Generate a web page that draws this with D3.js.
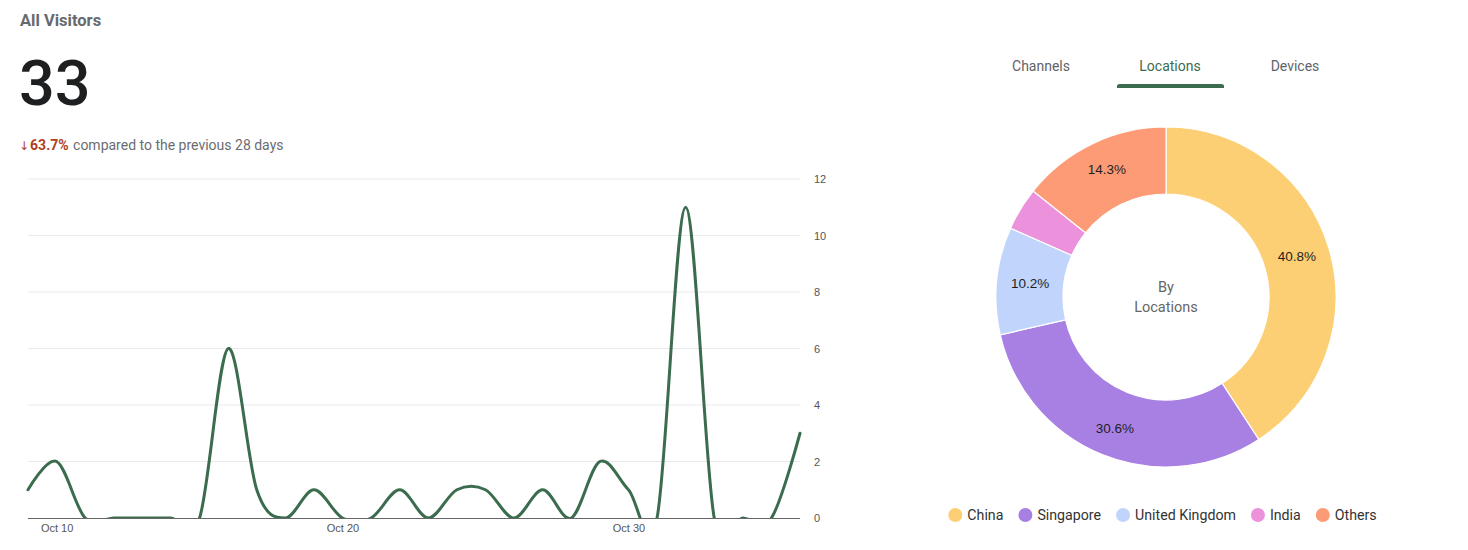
<!DOCTYPE html>
<html><head><meta charset="utf-8">
<script src="https://cdn.jsdelivr.net/npm/d3@7"></script>
<style>
body{margin:0;background:#fff;font-family:Roboto,"Noto Sans",sans-serif;}
svg{display:block;}
</style></head>
<body>
<svg id="chart" width="1468" height="550"></svg>
<script>
// ---- data ----
const dayLabels = ["2023-10-09","2023-10-10","2023-10-11","2023-10-12","2023-10-13","2023-10-14","2023-10-15","2023-10-16","2023-10-17","2023-10-18","2023-10-19","2023-10-20","2023-10-21","2023-10-22","2023-10-23","2023-10-24","2023-10-25","2023-10-26","2023-10-27","2023-10-28","2023-10-29","2023-10-30","2023-10-31","2023-11-01","2023-11-02","2023-11-03","2023-11-04","2023-11-05"];
const visitors = [1,2,0,0,0,0,0,6,1,0,1,0,0,1,0,1,1,0,1,0,2,1,0,11,0,0,0,3];
const xTickDates = ["2023-10-10","2023-10-20","2023-10-30"];
const yTicks = [0,2,4,6,8,10,12];
const locations = ["China","Singapore","United Kingdom","India","Others"];
const locationCounts = [20,15,5,2,7];
const locationColors = ["#fdcf74","#a880e4","#c0d4fc","#ec91dc","#fd9b77"];
const tabs = ["Channels","Locations","Devices"];

const svg = d3.select("#chart");
const parse = d3.timeParse("%Y-%m-%d");
const dates = dayLabels.map(parse);
const arial = "'Liberation Sans',Arial,sans-serif";

// ---- header ----
svg.append("text").attr("x",20).attr("y",26).attr("font-size",16.5).attr("font-weight",700)
  .attr("fill","#666a6e").text("All Visitors");
svg.append("text").attr("x",19).attr("y",105).attr("font-size",63).attr("font-weight",500)
  .attr("fill","#1d1f20").text("33");
const cmp = svg.append("text").attr("x",19).attr("y",150).attr("font-size",14);
cmp.append("tspan").attr("fill","#b23e1e").attr("font-family","'DejaVu Sans',sans-serif").attr("font-size",12).text("\u2193");
cmp.append("tspan").attr("dx",1).attr("fill","#b23e1e").attr("font-weight",700).text("63.7%");
cmp.append("tspan").attr("fill","#6a6d70").attr("dx",1).text(" compared to the previous 28 days");

// ---- line chart ----
const x = d3.scaleTime().domain([dates[0], dates[dates.length-1]]).range([28,800]);
const y = d3.scaleLinear().domain([0,12]).range([518,179]);

const grid = svg.append("g");
grid.selectAll("line").data(yTicks.filter(d=>d>0)).join("line")
  .attr("x1",28).attr("x2",800).attr("y1",d=>y(d)).attr("y2",d=>y(d))
  .attr("stroke","#e9e9e9").attr("stroke-width",1);

const yAxis = svg.append("g").attr("transform","translate(806,0)")
  .call(d3.axisRight(y).tickValues(yTicks).tickSize(0).tickPadding(8));
yAxis.select(".domain").remove();
yAxis.selectAll("text").attr("font-size",11).attr("fill","#555").attr("font-family",arial);

const xAxis = svg.append("g").attr("transform","translate(0,518)")
  .call(d3.axisBottom(x).tickValues(xTickDates.map(parse)).tickFormat(d3.timeFormat("Oct %-d")).tickSize(0).tickPadding(6));
xAxis.select(".domain").attr("d","M28,0.5H800").attr("stroke","#666").attr("stroke-width",1);
xAxis.selectAll("text").attr("font-size",11).attr("fill","#555").attr("font-family",arial);

svg.append("clipPath").attr("id","clip").append("rect")
  .attr("x",20).attr("y",160).attr("width",790).attr("height",358);

const line = d3.line().x((d,i)=>x(dates[i])).y(d=>y(d)).curve(d3.curveCardinal.tension(0));
svg.append("path").datum(visitors).attr("clip-path","url(#clip)")
  .attr("d",line).attr("fill","none").attr("stroke","#3b6c4e").attr("stroke-width",3)
  .attr("stroke-linejoin","round").attr("stroke-linecap","round");

// ---- tabs ----
const tabX = [1041,1170,1295];
svg.selectAll("text.tab").data(tabs).join("text").attr("class","tab")
  .attr("x",(d,i)=>tabX[i]).attr("y",71).attr("text-anchor","middle").attr("font-size",14)
  .attr("fill",(d,i)=>i===1?"#3b6c4e":"#5f6368").text(d=>d);
svg.append("path").attr("d","M1117,88V86Q1117,84 1120,84H1221Q1224,84 1224,86V88Z").attr("fill","#3b6c4e");

// ---- donut ----
const cx = 1166, cy = 297, rOut = 170, rIn = 103;
const total = d3.sum(locationCounts);
const pie = d3.pie().sort(null).value(d=>d)(locationCounts);
const arc = d3.arc().innerRadius(rIn).outerRadius(rOut);
const dg = svg.append("g").attr("transform",`translate(${cx},${cy})`);
dg.selectAll("path").data(pie).join("path").attr("d",arc)
  .attr("fill",(d,i)=>locationColors[i]).attr("stroke","#fff").attr("stroke-width",1.2);
dg.selectAll("text.pct").data(pie.filter(d=>d.value/total>0.05)).join("text").attr("class","pct")
  .attr("transform",d=>{
    const c = arc.centroid(d);
    const a = (d.startAngle+d.endAngle)/2;
    return `translate(${c[0]},${c[1] - Math.cos(a)*5})`;
  })
  .attr("text-anchor","middle").attr("dy","0.35em")
  .attr("font-size",13.5).attr("font-family",arial).attr("fill","#1f1f1f")
  .text(d=>(d.value/total*100).toFixed(1)+"%");
dg.append("text").attr("y",-5).attr("text-anchor","middle").attr("font-size",14.5).attr("fill","#666").text("By");
dg.append("text").attr("y",15).attr("text-anchor","middle").attr("font-size",14.5).attr("fill","#666").text("Locations");

// ---- legend ----
const lg = svg.append("g");
let lx = 0;
locations.forEach((name,i)=>{
  const g = lg.append("g");
  g.append("circle").attr("cx",7).attr("cy",0).attr("r",7).attr("fill",locationColors[i]);
  const t = g.append("text").attr("x",19).attr("y",5).attr("font-size",14.2).attr("fill","#333").text(name);
  const w = 19 + t.node().getComputedTextLength();
  g.attr("transform",`translate(${lx},515)`);
  lx += w + 15;
});
const lw = lx - 15;
lg.attr("transform",`translate(${1162.5 - lw/2},0)`);
</script>
</body></html>
